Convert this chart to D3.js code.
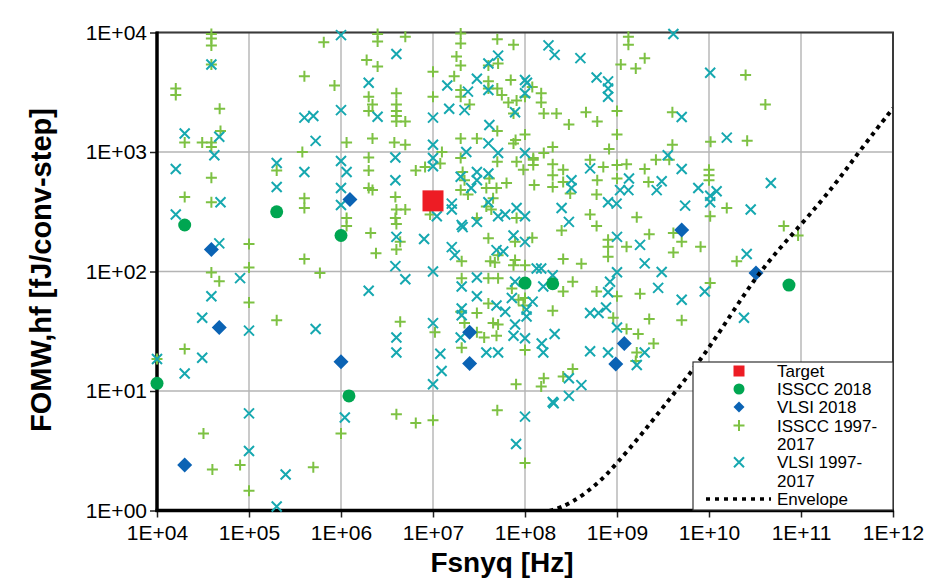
<!DOCTYPE html>
<html><head><meta charset="utf-8">
<script src="https://cdn.jsdelivr.net/npm/d3@7"></script>
<style>body{margin:0;background:#fff}</style>
</head><body>
<svg id="c" width="928" height="587"></svg>
<script>
// ---------- data ----------
const xTicks = [1e4,1e5,1e6,1e7,1e8,1e9,1e10,1e11,1e12];
const xTickLabels = ["1E+04","1E+05","1E+06","1E+07","1E+08","1E+09","1E+10","1E+11","1E+12"];
const yTicks = [1,10,100,1000,10000];
const yTickLabels = ["1E+00","1E+01","1E+02","1E+03","1E+04"];

const target = [[1.0e7,390]];
const isscc2018 = [[2.0e4,245],[2.0e5,316],[1.0e6,200],[1.0e8,80],[2.0e8,79],[7.4e10,77],[1.0e4,11.6],[1.22e6,9.1]];
const vlsi2018 = [[1.25e6,400],[3.9e4,153],[4.75e4,34],[1.0e6,17.6],[2.5e7,17],[2.5e7,31],[5.05e9,222],[3.24e10,97],[1.2e9,25],[9.7e8,16.8],[2.0e4,2.4]];
const isscc9717 = [
[3.9e4,9700],[3.9e4,8900],[3.9e4,7800],[3.9e4,5400],[1.6e4,3400],[1.6e4,3000],[4.8e4,2300],[4.9e4,1500],[2.0e4,1200],[3.1e4,1200],[3.9e4,1200],[3.9e4,1100],[3.9e4,610],[2.0e4,420],
[6.5e5,8300],[4.0e5,4300],[8.5e5,3600],[1.15e6,1200],[3.8e5,1000],[2.0e5,700],
[2.5e6,9700],[2.5e6,8400],[5.0e6,9200],[2.0e7,9800],[2.0e7,8100],[5.0e7,8800],[7.5e7,7900],[1.9e6,5900],[2.5e6,5200],[4.0e7,5300],[5.1e7,5500],[1.8e7,6300],[2.0e7,5300],[1.0e7,4700],[1.7e7,4300],[7.0e7,4000],[1.2e8,3500],[4.0e7,3900],[4.0e7,3400],[5.0e7,3400],[2.0e7,3300],[2.0e7,2900],[5.6e7,3000],[4.0e6,3100],[2.0e6,2900],[1.0e7,2900],[1.0e8,2900],[6.6e7,2600],[8.1e7,2700],[2.5e7,2500],[2.2e6,2500],[2.0e6,2200],[4.0e6,2500],[4.0e6,2200],[4.0e6,2000],[4.0e6,1800],[5.0e6,1800],[7.5e7,2100],[5.0e7,1500],[2.2e6,1300],[3.8e6,1200],[5.0e6,1150],[2.0e7,1300],[3.0e7,1300],[7.9e7,1260],[7.5e7,1180],[1.0e8,1400],[1.25e7,1000],
[2.0e6,900],[2.0e6,700],[6.5e6,700],[8.2e6,750],[1.2e7,800],[2.0e7,890],[5.0e7,830],[8.1e7,830],[9.6e7,710],[1.23e8,890],[1.23e8,780],[1.26e8,530],[2.1e7,680],[2.2e7,580],[4.1e7,600],[6.3e7,550],[4.9e7,500],[2.0e6,500],[2.2e6,480],[2.0e7,480],
[1.33e9,9200],[1.33e9,7900],[2.0e9,6100],[1.6e9,5000],[1.1e9,5400],[1.5e8,3100],[1.5e8,2600],[1.6e8,2100],[2.2e8,2100],[4.6e8,2150],[6.1e8,1800],[3.0e8,1700],[1.0e9,2200],[4.0e9,2150],[1.0e9,1400],[2.0e8,1100],[1.6e8,980],[8.2e8,1060],[4.0e9,1150],[1.04e10,1220],[3.7e9,860],[2.65e9,860],[2.0e9,720],[1.23e8,860],[2.0e8,790],[2.0e8,640],[2.6e8,710],[5.1e8,860],[7.1e8,750],[1.0e9,780],[1.27e9,790],[6.1e8,580],[1.0e9,600],[2.2e9,560],[2.0e8,510],[2.6e8,560],[1.0e10,710],[1.0e10,640],[1.0e10,580],[2.5e10,4400],[4.1e10,2500],[2.6e10,1240],
[3.9e4,380],[4.0e5,410],[4.0e5,340],[1.15e6,280],[1.15e6,240],[1.0e5,170],[4.0e5,127],[1.0e5,108],[3.9e4,98],[4.75e4,83],[5.9e5,97],[1.0e5,55],[2.0e5,39],[2.0e4,22.5],[1.0e4,18.5],[3.2e4,4.4],[4.0e4,2.2],[8.0e4,2.4],[5.0e5,2.3],[1.0e5,1.46],[1.0e6,4.4],
[3.9e6,420],[4.0e6,330],[3.9e6,280],[4.0e6,250],[5.0e6,330],[2.1e6,210],[2.4e6,142],[4.4e6,177],[4.0e6,153],[9.3e6,300],[2.4e7,440],[3.8e7,500],[4.5e7,410],[3.8e7,350],[4.3e7,330],[8.1e7,280],[3.0e7,280],[4.0e7,190],[7.8e7,177],[1.2e8,192],[2.05e7,122],[5.1e7,137],[4.2e7,122],[4.7e7,119],[7.8e7,125],[7.5e7,113],[1.0e8,113],[2.05e7,88],[4.0e7,88],[5.1e7,88],[7.2e7,72],[4.0e7,54],[8.5e7,58],[1.0e8,60],[9.6e7,52],[2.0e7,46],[3.0e7,45],[4.4e6,38],[1.05e7,31],[2.2e7,37],[3.0e7,31],[4.5e7,37],[5.1e7,36],[4.9e7,29],[3.6e7,28],[2.05e7,23],[1.0e8,22],[4.0e6,6.4],[6.5e6,5.4],[1.0e7,5.7],[5.0e7,6.9],[1.0e8,2.5],[8.0e7,11.4],
[3.1e8,450],[6.0e8,440],[1.56e10,340],[5.1e8,300],[1.64e9,285],[1.03e10,290],[6.0e8,240],[2.5e8,220],[2.24e9,205],[4.1e9,210],[5.05e9,177],[8.0e8,184],[8.0e8,161],[8.0e8,133],[1.27e9,161],[8.1e9,161],[4.1e9,144],[2.6e8,127],[4.1e8,116],[3.3e8,82],[2.6e8,68],[6.0e8,68],[1.0e9,62],[1.78e9,65],[1.03e10,80],[2.0e8,47],[9.1e8,41],[1.27e9,33],[2.24e9,40],[5.05e9,39],[1.7e9,30],[2.5e9,25],[1.64e9,21],
[6.5e10,240],[9.3e10,200],[2.0e10,122],
[1.6e8,12.8],[1.5e8,10.9],[2.6e8,13.2],[3.3e8,15.3],[1.6e9,17.8]
];
const vlsi9717 = [
[1.0e6,9500],[4.0e5,1940],[5.0e5,2000],[1.0e6,2240],[5.3e5,1240],[2.0e5,810],[4.0e5,680],[2.0e5,510],[1.0e6,840],[1.15e6,680],[1.0e6,500],[3.9e4,5400],[2.0e4,1430],[4.75e4,1340],[4.2e4,940],[1.6e4,720],
[4.0e6,6600],[2.0e6,3800],[5.1e7,6400],[4.0e7,5500],[3.0e7,4100],[1.43e7,3600],[1.0e8,4000],[1.05e8,3800],[2.4e7,3200],[4.0e7,3300],[1.0e8,3100],[1.5e7,2300],[2.2e7,2240],[2.5e6,1970],[1.0e7,1940],[7.8e7,2150],[4.1e7,1680],[4.0e7,1180],[2.3e7,1000],[5.1e7,980],[1.0e7,1150],[1.0e8,980],[3.9e6,900],[1.0e7,890],[1.0e7,760],[2.0e7,620],[3.0e7,680],[3.0e7,580],[2.6e7,500],[4.0e7,660],[3.9e6,580],
[1.8e8,7800],[2.1e8,6500],[4.0e8,6100],[4.1e9,9700],[1.03e10,4600],[6.0e8,4200],[8.0e8,3900],[8.0e8,3400],[8.0e8,2900],[5.05e9,1960],[1.56e10,1320],[3.56e9,940],[5.1e8,730],[5.05e9,720],[1.35e9,600],[3.06e9,570],[3.2e8,580],[3.2e8,500],[7.65e9,500],[1.21e10,470],[1.08e9,480],[1.33e9,480],[2.7e9,480],[4.7e10,550],
[4.9e4,380],[1.6e4,300],[1.0e6,360],[4.75e4,172],[8.0e4,88],[3.9e4,62],[3.1e4,41],[1.0e5,32],[5.3e5,33],[3.1e4,19],[2.0e4,14],[1.0e4,18.5],
[1.1e7,290],[1.6e7,370],[1.6e7,330],[4.0e7,380],[5.1e7,290],[6.1e7,300],[8.1e7,340],[1.0e8,290],[2.05e7,245],[2.1e7,235],[3.0e7,260],[4.0e6,195],[8.0e6,187],[3.9e6,111],[5.0e6,86],[1.0e7,100],[2.0e6,69],[7.5e7,200],[1.0e8,177],[1.6e7,160],[1.73e7,137],[4.9e7,151],[5.8e7,147],[1.34e8,106],[2.05e7,75],[3.0e7,89],[7.8e7,82],[3.0e7,62],[4.9e7,52],[6.1e7,46],[7.2e7,60],[1.21e8,56],[1.04e8,48],[1.04e8,42],[2.05e7,49],[2.05e7,43],[1.0e7,37],[2.0e7,28],[7.8e7,36],[7.5e7,29],[1.0e8,27.6],[4.0e6,28],[4.0e6,21],[1.2e7,20.5],[3.8e7,21],[5.1e7,21],[1.24e7,14.7],[1.0e7,11.4],[1.1e6,6.0],[1.0e8,6.1],[8.0e7,3.6],[1.0e5,6.5],[1.0e5,3.15],[2.5e5,2.0],[2.0e5,1.08],
[8.0e8,380],[9.9e8,370],[2.5e8,340],[5.5e9,356],[1.03e10,380],[1.03e10,430],[3.0e8,260],[1.0e9,195],[1.78e9,167],[2.0e9,117],[1.5e8,106],[2.0e8,93],[1.0e9,98.5],[3.06e9,99],[1.58e8,75],[8.4e8,82],[8.0e8,67],[2.8e9,73],[9.0e9,68],[5.05e9,58],[5.1e8,45],[6.3e8,45],[7.6e8,50],[1.0e9,34],[2.1e8,30],[1.52e8,25],[1.58e8,21],[5.1e8,21.5],[8.0e8,21],[2.0e9,21],[1.64e9,16.5],
[2.84e10,330],[2.57e10,140],[2.4e10,41],
[3.0e8,12.8],[4.1e8,11.2],[3.0e8,9.1],[2.0e8,8.1],[2.05e8,7.9]
];
const envelopeFreq = [1.5e8,1.95e8,3.1e8,6.0e8,1.0e9,1.93e9,3.77e9,1.0e10,3.24e10,1.0e11,2.34e11,4.4e11,1.0e12];
const envelopeFom  = [0.96,1.0,1.13,1.63,2.48,4.5,8.7,22,95,245,530,1040,2320];

const legendLabels = ["Target","ISSCC 2018","VLSI 2018","ISSCC 1997-","2017","VLSI 1997-","2017","Envelope"];

// ---------- drawing ----------
const C = {plus:"#7dc143", cross:"#16a8b0", circle:"#00a651", diamond:"#0b63b4", target:"#ed1c24"};
const L = 157, R = 893, T = 32.5, B = 510.5;
const svg = d3.select("#c");
svg.append("rect").attr("width",928).attr("height",587).attr("fill","#fff");
const x = d3.scaleLog().domain([1e4,1e12]).range([L,R]);
const y = d3.scaleLog().domain([1,1e4]).range([B,T]);
const font = "'Liberation Sans', Arial, sans-serif";

// grid
const g = svg.append("g");
g.selectAll(".gx").data(xTicks).join("line")
  .attr("x1",d=>x(d)).attr("x2",d=>x(d)).attr("y1",T).attr("y2",B)
  .attr("stroke","#b4b4b4").attr("stroke-width",1.4);
g.selectAll(".gy").data(yTicks).join("line")
  .attr("x1",L).attr("x2",R).attr("y1",d=>y(d)).attr("y2",d=>y(d))
  .attr("stroke","#b4b4b4").attr("stroke-width",1.4);

// axes (ticks + labels)
const ax = svg.append("g").attr("transform",`translate(${L},0)`)
  .call(d3.axisLeft(y).tickValues(yTicks).tickFormat((d,i)=>yTickLabels[i]).tickSize(7).tickPadding(3));
const bx = svg.append("g").attr("transform",`translate(0,${B})`)
  .call(d3.axisBottom(x).tickValues(xTicks).tickFormat((d,i)=>xTickLabels[i]).tickSize(7).tickPadding(8));
[ax,bx].forEach(a=>{
  a.select(".domain").remove();
  a.selectAll(".tick line").attr("stroke","#222").attr("stroke-width",1.5);
  a.selectAll(".tick text").attr("font-family",font).attr("font-size",21).attr("fill","#000");
});

// frame
svg.append("rect").attr("x",L).attr("y",T).attr("width",R-L).attr("height",B-T)
  .attr("fill","none").attr("stroke","#3a3a3a").attr("stroke-width",2);
svg.append("line").attr("x1",L).attr("x2",L).attr("y1",T-1).attr("y2",B+1.5).attr("stroke","#000").attr("stroke-width",3.5);
svg.append("line").attr("x1",L-1.5).attr("x2",R+1).attr("y1",B).attr("y2",B).attr("stroke","#000").attr("stroke-width",3.5);

// envelope (clipped)
svg.append("clipPath").attr("id","clip").append("rect").attr("x",L).attr("y",T).attr("width",R-L).attr("height",B-T);
const envData = envelopeFreq.map((f,i)=>[f,envelopeFom[i]]);
const line = d3.line().x(d=>x(d[0])).y(d=>y(d[1])).curve(d3.curveBasis);

// markers
const plusPath = "M-5.5,0H5.5M0,-5.5V5.5";
const crossPath = "M-5,-5L5,5M-5,5L5,-5";
svg.append("g").selectAll("path").data(isscc9717).join("path")
  .attr("d",plusPath).attr("transform",d=>`translate(${x(d[0])},${y(d[1])})`)
  .attr("stroke",C.plus).attr("stroke-width",2).attr("fill","none");
svg.append("g").selectAll("path").data(vlsi9717).join("path")
  .attr("d",crossPath).attr("transform",d=>`translate(${x(d[0])},${y(d[1])})`)
  .attr("stroke",C.cross).attr("stroke-width",2).attr("fill","none");
svg.append("g").selectAll("circle").data(isscc2018).join("circle")
  .attr("cx",d=>x(d[0])).attr("cy",d=>y(d[1])).attr("r",6.5).attr("fill",C.circle);
svg.append("g").selectAll("path").data(vlsi2018).join("path")
  .attr("d","M0,-7.5L7.5,0L0,7.5L-7.5,0Z").attr("transform",d=>`translate(${x(d[0])},${y(d[1])})`)
  .attr("fill",C.diamond);

svg.append("path").datum(envData).attr("clip-path","url(#clip)").attr("d",line)
  .attr("fill","none").attr("stroke","#000").attr("stroke-width",4).attr("stroke-dasharray","4,4.6");

svg.append("g").selectAll("rect").data(target).join("rect")
  .attr("x",d=>x(d[0])-10.5).attr("y",d=>y(d[1])-10.5).attr("width",21).attr("height",21).attr("fill",C.target);

// legend
const lg = svg.append("g");
lg.append("rect").attr("x",693).attr("y",362).attr("width",200).attr("height",148)
  .attr("fill","#fff").attr("stroke","#333").attr("stroke-width",1.2);
const rowsY = [371,389,407,425.5,444,462.3,480.7,499];
const sx = 739;
lg.append("rect").attr("x",sx-5.5).attr("y",rowsY[0]-5.5).attr("width",11).attr("height",11).attr("fill",C.target);
lg.append("circle").attr("cx",sx).attr("cy",rowsY[1]).attr("r",5.5).attr("fill",C.circle);
lg.append("path").attr("d","M0,-5.5L5.5,0L0,5.5L-5.5,0Z").attr("transform",`translate(${sx},${rowsY[2]})`).attr("fill",C.diamond);
lg.append("path").attr("d",plusPath).attr("transform",`translate(${sx},${rowsY[3]})`).attr("stroke",C.plus).attr("stroke-width",2);
lg.append("path").attr("d",crossPath).attr("transform",`translate(${sx},${rowsY[5]})`).attr("stroke",C.cross).attr("stroke-width",2);
lg.append("line").attr("x1",706).attr("x2",771).attr("y1",rowsY[7]).attr("y2",rowsY[7])
  .attr("stroke","#000").attr("stroke-width",3.6).attr("stroke-dasharray","4,5");
lg.selectAll("text").data(legendLabels).join("text")
  .attr("x",777).attr("y",(d,i)=>rowsY[i]+6).text(d=>d)
  .attr("font-family",font).attr("font-size",17).attr("fill","#000");

// titles
svg.append("text").attr("x",502).attr("y",572).attr("text-anchor","middle")
  .attr("font-family",font).attr("font-weight","bold").attr("font-size",28).text("Fsnyq [Hz]");
svg.append("text").attr("transform","translate(51,270) rotate(-90)").attr("text-anchor","middle")
  .attr("font-family",font).attr("font-weight","bold").attr("font-size",29).text("FOMW,hf [fJ/conv-step]");
</script>
</body></html>
